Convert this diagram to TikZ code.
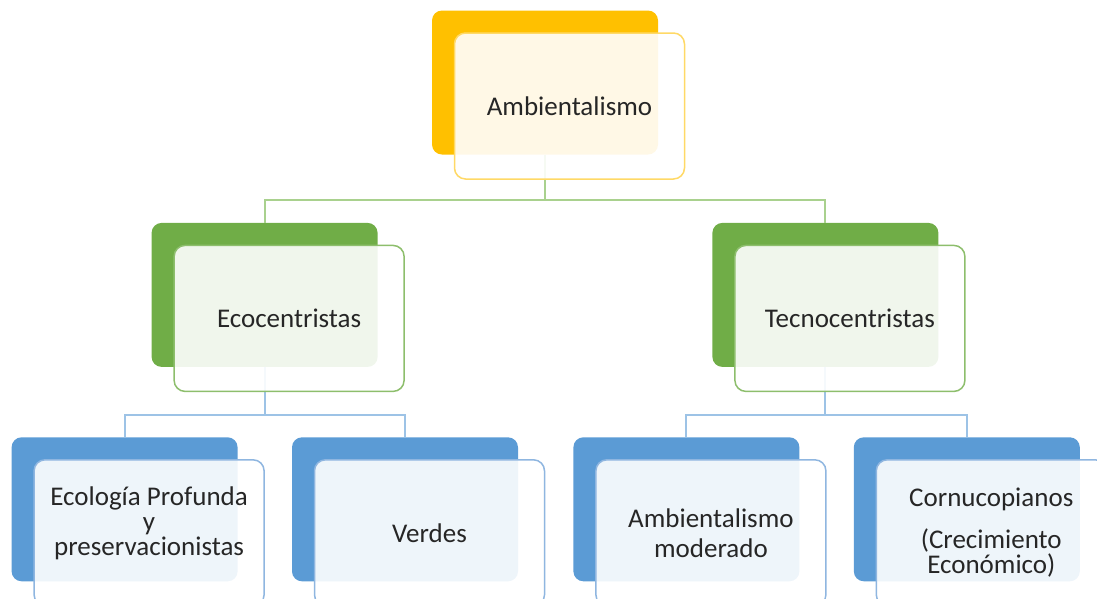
\documentclass[tikz,border=0pt]{standalone}
\usepackage{fontspec}
\setmainfont{Carlito}
\usetikzlibrary{positioning}

\definecolor{amarillo}{HTML}{FFC000}
\definecolor{amarilloborde}{HTML}{FFD966}
\definecolor{verde}{HTML}{70AD47}
\definecolor{verdeborde}{HTML}{8DBE6C}
\definecolor{verdelinea}{HTML}{A9D18E}
\definecolor{azul}{HTML}{5B9BD5}
\definecolor{azulborde}{HTML}{8FB6E0}
\definecolor{azullinea}{HTML}{9DC3E6}
\definecolor{texto}{HTML}{262626}

\begin{document}
\begin{tikzpicture}[
    x=1pt, y=-1pt,
    back/.style={rounded corners=10pt, minimum width=226pt, minimum height=144pt, inner sep=0pt},
    front/.style={draw, line width=1.5pt, fill=white, fill opacity=0.9, text opacity=1, rounded corners=11pt,
        minimum width=230pt, minimum height=146pt, inner sep=0pt, align=center, text=texto,
        font=\fontsize{27}{25}\selectfont},
    link/.style={line width=2pt}
    ]
    \useasboundingbox (0,0) rectangle (1097,598);

    % fondos
    \node (amb-b) [back, fill=amarillo] at (545,82.5) {};
    \node (eco-b) [back, fill=verde, below left=68pt and 54pt of amb-b] {};
    \node (tec-b) [back, fill=verde, below right=68pt and 54pt of amb-b] {};
    \node (prof-b) [back, fill=azul, below=70pt of eco-b, xshift=-140pt] {};
    \node (verd-b) [back, fill=azul, right=54pt of prof-b] {};
    \node (mod-b) [back, fill=azul, right=55pt of verd-b] {};
    \node (corn-b) [back, fill=azul, right=54pt of mod-b] {};

    % lineas
    \draw[link, verdelinea] (amb-b.south) -- ++(0,45) coordinate (j1) -| (eco-b.north);
    \draw[link, verdelinea] (j1) -| (tec-b.north);
    \draw[link, azullinea] (eco-b.south) -- ++(0,48) coordinate (j2) -| (prof-b.north);
    \draw[link, azullinea] (j2) -| (verd-b.north);
    \draw[link, azullinea] (tec-b.south) -- ++(0,48) coordinate (j3) -| (mod-b.north);
    \draw[link, azullinea] (j3) -| (corn-b.north);

    % tarjetas
    \node (amb) [front, draw=amarilloborde, shift={(24.5,23.5)}] at (amb-b) {Ambientalismo};
    \node (eco) [front, draw=verdeborde, shift={(24.5,23.5)}] at (eco-b) {Ecocentristas};
    \node (tec) [front, draw=verdeborde, shift={(24.5,23.5)}] at (tec-b) {Tecnocentristas};
    \node (prof) [front, draw=azulborde, shift={(24.5,23.5)}] at (prof-b) {Ecología Profunda\\y\\preservacionistas\\[-2pt]};
    \node (verd) [front, draw=azulborde, shift={(24.5,23.5)}] at (verd-b) {Verdes};
    \node (mod) [front, draw=azulborde, shift={(24.5,23.5)}] at (mod-b) {Ambientalismo\\[5pt]moderado};
    \node (corn) [front, draw=azulborde, shift={(24.5,23.5)}] at (corn-b) {Cornucopianos\\[17pt](Crecimiento\\Económico)};
\end{tikzpicture}
\end{document}
